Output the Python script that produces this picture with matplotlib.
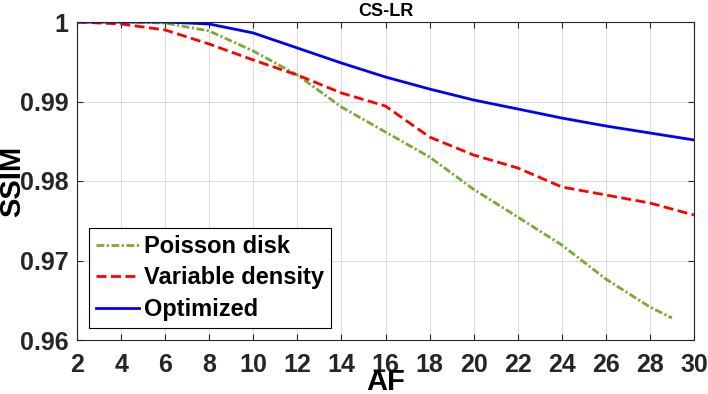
import matplotlib
matplotlib.use("Agg")
import matplotlib.pyplot as plt
import numpy as np

# ---- data ----
af = [2, 4, 6, 8, 10, 12, 14, 16, 18, 20, 22, 24, 26, 28, 30]
af_poisson = [2, 4, 6, 8, 10, 12, 14, 16, 18, 20, 22, 24, 26, 28, 29]

ssim_poisson = [1.0, 1.0, 0.99987, 0.99887, 0.99635, 0.99333, 0.98931, 0.98616,
                0.98302, 0.97895, 0.97547, 0.97195, 0.96767, 0.96415, 0.96277]
ssim_variable = [1.0, 0.99975, 0.9990, 0.99723, 0.99522, 0.99333, 0.99107, 0.98943,
                 0.98553, 0.98327, 0.98164, 0.97925, 0.97824, 0.97723, 0.97572]
ssim_optimized = [1.0, 1.0, 1.0, 0.99975, 0.99862, 0.99673, 0.99484, 0.99308,
                  0.99157, 0.99019, 0.98906, 0.98792, 0.98692, 0.98604, 0.98516]

x_ticks = list(range(2, 31, 2))
y_ticks = [0.96, 0.97, 0.98, 0.99, 1.0]
y_ticklabels = ["0.96", "0.97", "0.98", "0.99", "1"]

# ---- style ----
plt.rcParams.update({
    "font.family": ["Liberation Sans", "DejaVu Sans"],
    "font.weight": "bold",
})

fig = plt.figure(figsize=(7.08, 3.94), dpi=100)
ax = fig.add_axes([77 / 708, 54 / 394, 617 / 708, 318 / 394])

ax.plot(af_poisson, ssim_poisson, color="#77AC30", linestyle=(0, (2.8, 0.9, 0.8, 0.9)),
        linewidth=2.0, label="Poisson disk")
ax.plot(af, ssim_variable, color="#FF0000", linestyle=(0, (3.6, 1.6)), linewidth=2.0,
        label="Variable density")
ax.plot(af, ssim_optimized, color="#0000FF", linestyle="-", linewidth=2.0,
        label="Optimized")

ax.set_xlim(2, 30)
ax.set_ylim(0.96, 1.0)
ax.set_xticks(x_ticks)
ax.set_yticks(y_ticks)
ax.set_yticklabels(y_ticklabels)

ax.grid(True, color="#dcdcdc", linewidth=0.8)
ax.set_axisbelow(True)
ax.tick_params(direction="in", length=4, width=0.8, top=True, right=True,
               labelsize=18, colors="#262626")
ax.tick_params(axis="x", pad=9)
ax.tick_params(axis="y", pad=6)
for lab in ax.get_xticklabels() + ax.get_yticklabels():
    lab.set_fontweight("bold")
for sp in ax.spines.values():
    sp.set_color("#262626")
    sp.set_linewidth(0.8)

ax.set_title("CS-LR", fontsize=13, fontweight="bold", pad=4)
ax.set_xlabel("AF", fontsize=21, fontweight="bold")
ax.xaxis.set_label_coords(0.5, -0.0865)
ax.set_ylabel("SSIM", fontsize=21, fontweight="bold")
ax.yaxis.set_label_coords(-0.082, 0.5)

leg = ax.legend(loc="lower left", bbox_to_anchor=(0.0195, 0.038), borderaxespad=0,
                handlelength=1.8, handletextpad=0.22,
                labelspacing=0.36, borderpad=0.3, fancybox=False, framealpha=1,
                edgecolor="black", prop={"weight": "bold", "size": 17})
leg.get_frame().set_linewidth(0.8)

fig.savefig("out.png", dpi=100)
